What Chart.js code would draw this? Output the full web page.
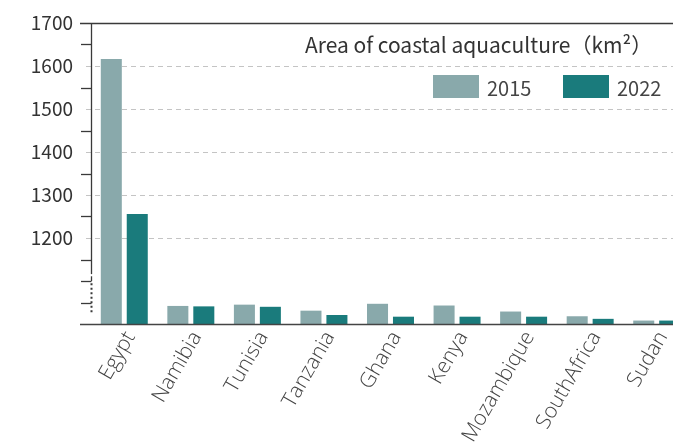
<!DOCTYPE html>
<html>
<head>
<meta charset="utf-8">
<script src="https://cdn.jsdelivr.net/npm/chart.js@4.4.1/dist/chart.umd.min.js"></script>
<style>
  html, body { margin: 0; padding: 0; background: #fff; overflow: hidden; }
  #wrap { width: 700px; height: 443px; }
</style>
</head>
<body>
<div id="wrap"><canvas id="c" width="700" height="443"></canvas></div>
<script>
const categories = ['Egypt', 'Namibia', 'Tunisia', 'Tanzania', 'Ghana', 'Kenya', 'Mozambique', 'SouthAfrica', 'Sudan'];
const area2015 = [1616, 42, 45, 31, 47, 43, 29, 18, 8];
const area2022 = [1256, 41, 40, 21, 17, 17, 17, 12, 8];
const seriesLabels = ['2015', '2022'];
const titleText = 'Area of coastal aquaculture（km²）';
const yTickValues = [1200, 1300, 1400, 1500, 1600, 1700];
const BREAK_OFFSET = 1000; // upper segment starts at 1000 (axis is broken)

function toDisplay(v) { return v > BREAK_OFFSET ? v - BREAK_OFFSET : v; }

const COL15 = '#89a9ab';
const COL22 = '#1a7b7c';
const AXIS = '#3a3a3a';
const CJK = '"Noto Sans CJK SC", "Noto Sans", sans-serif';

function noPad(s) { s.paddingTop = 0; s.paddingBottom = 0; s.paddingLeft = 0; s.paddingRight = 0; }

const decor = {
  id: 'decor',
  beforeDatasetsDraw(chart) {
    const {ctx, chartArea, scales: {y}} = chart;
    ctx.save();
    ctx.strokeStyle = '#c4c4c4';
    ctx.lineWidth = 1;
    ctx.setLineDash([5, 4]);
    yTickValues.filter(v => v < 1700).forEach(v => {
      const py = Math.round(y.getPixelForValue(toDisplay(v))) + 0.5;
      ctx.beginPath();
      ctx.moveTo(86, py);
      ctx.lineTo(chartArea.right + 20, py);
      ctx.stroke();
    });
    ctx.restore();
  },
  afterDraw(chart) {
    const {ctx, chartArea, scales: {y}} = chart;
    const ax = chartArea.left + 0.5;
    ctx.save();
    ctx.strokeStyle = AXIS;
    ctx.lineWidth = 1.3;
    // top line (1700)
    const top = Math.round(y.getPixelForValue(700)) + 0.5;
    ctx.beginPath(); ctx.moveTo(80, top); ctx.lineTo(chartArea.right + 20, top); ctx.stroke();
    // solid y axis
    ctx.beginPath(); ctx.moveTo(ax, top); ctx.lineTo(ax, y.getPixelForValue(116)); ctx.stroke();
    ctx.beginPath(); ctx.moveTo(ax, y.getPixelForValue(111)); ctx.lineTo(ax, y.getPixelForValue(100)); ctx.stroke();
    // ticks
    [50, 100, 150, 250, 350, 450, 550, 650].forEach(v => {
      const py = Math.round(y.getPixelForValue(v)) + 0.5;
      ctx.beginPath(); ctx.moveTo(81, py); ctx.lineTo(ax, py); ctx.stroke();
    });
    // dotted break part
    ctx.lineWidth = 2;
    ctx.setLineDash([2, 2.5]);
    ctx.beginPath(); ctx.moveTo(ax, y.getPixelForValue(95)); ctx.lineTo(ax, y.getPixelForValue(24)); ctx.stroke();
    ctx.setLineDash([]);
    // x axis line
    ctx.lineWidth = 1.6;
    ctx.strokeStyle = '#444';
    const bottom = Math.round(y.getPixelForValue(0)) + 0.5;
    ctx.beginPath(); ctx.moveTo(80, bottom); ctx.lineTo(chartArea.right + 20, bottom); ctx.stroke();
    // title
    ctx.fillStyle = '#333';
    ctx.font = '21px ' + CJK;
    ctx.textAlign = 'left';
    ctx.textBaseline = 'alphabetic';
    ctx.fillText(titleText, 305, 53);
    // legend
    const ds = chart.data.datasets;
    const lx = [433, 563];
    ctx.font = '20px ' + CJK;
    ctx.textBaseline = 'middle';
    ds.forEach((d, i) => {
      ctx.fillStyle = d.backgroundColor;
      ctx.fillRect(lx[i], 75, 46, 23);
      ctx.fillStyle = '#444';
      ctx.fillText(d.label, lx[i] + 54, 88);
    });
    ctx.restore();
  }
};

new Chart(document.getElementById('c'), {
  type: 'bar',
  data: {
    labels: categories,
    datasets: [
      { label: seriesLabels[0], data: area2015.map(toDisplay), backgroundColor: COL15 },
      { label: seriesLabels[1], data: area2022.map(toDisplay), backgroundColor: COL22 }
    ]
  },
  options: {
    responsive: false,
    animation: false,
    devicePixelRatio: 1,
    layout: { padding: { top: 23, right: 10, left: 0, bottom: 0 } },
    datasets: { bar: { categoryPercentage: 0.78, barPercentage: 0.81 } },
    plugins: { legend: { display: false }, tooltip: { enabled: false }, title: { display: false } },
    scales: {
      x: {
        grid: { display: false, drawTicks: false },
        border: { display: false },
        ticks: {
          autoSkip: false, minRotation: 60, maxRotation: 60, padding: 3, labelOffset: 6,
          color: '#444',
          font: { family: '"Open Sans", "Noto Sans", sans-serif', size: 21, weight: 300 }
        },
        afterFit(s) { s.height = 119; noPad(s); }
      },
      y: {
        min: 0, max: 700,
        grid: { display: false, drawTicks: false },
        border: { display: false },
        ticks: {
          stepSize: 50, autoSkip: false, padding: 18,
          color: '#333',
          font: { family: CJK, size: 19 },
          callback(v) {
            const real = v + BREAK_OFFSET;
            return yTickValues.includes(real) ? String(real) : '';
          }
        },
        afterFit(s) { s.width = 91; noPad(s); }
      }
    }
  },
  plugins: [decor]
});
</script>
</body>
</html>
